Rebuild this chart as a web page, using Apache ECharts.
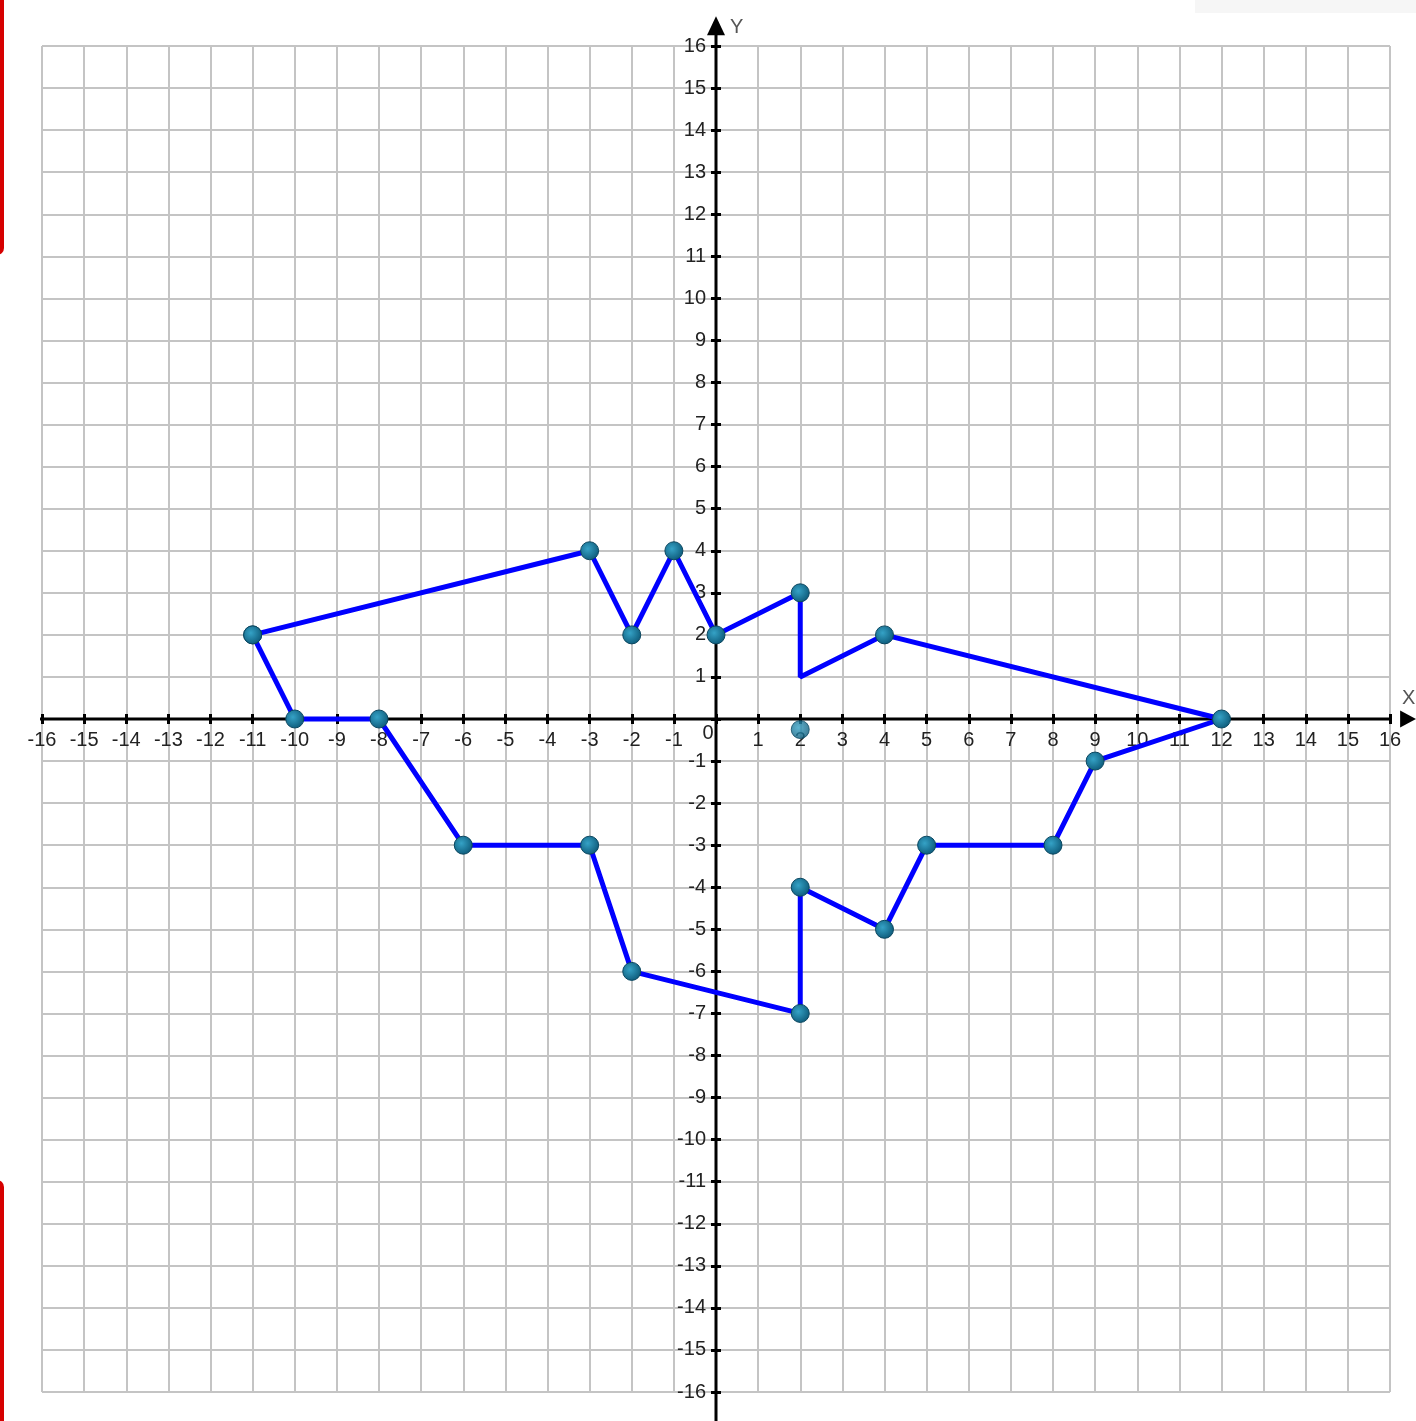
<!DOCTYPE html>
<html>
<head>
<meta charset="utf-8">
<title>Coordinate grid</title>
<script src="https://cdn.jsdelivr.net/npm/echarts@6/dist/echarts.min.js"></script>
<style>
    html, body { margin: 0; padding: 0; background: #fff; }
    #main { width: 1416px; height: 1421px; }
</style>
</head>
<body>
<div id="main"></div>
<script>
// outline of the figure, in drawing order (it closes back on the first point)
const shapeX = [-11, -3, -2, -1, 0, 2, 2, 4, 12, 9, 8, 5, 4, 2, 2, -2, -3, -6, -8, -10, -11]
const shapeY = [2, 4, 2, 4, 2, 3, 1, 2, 0, -1, -3, -3, -5, -4, -7, -6, -3, -3, 0, 0, 2]
// corners that have no dot on them
const bareCorners = [6]
// the loose dot just under the x axis
const strayDot = [[2, -0.25]]
// axis range, and how far the black axes run past the grid
const axisMin = -16
const axisMax = 16
const xAxisReach = [-16.76, 16.43]
const yAxisReach = [-16.8, 16.48]

const labelFont = 'Liberation Sans'
const box = { left: 42, right: 26, top: 46, bottom: 29, width: 1416, height: 1421 }
// the zero lines sit in the middle of the grid, so pull the axes in by half its size
const xShift = -(box.height - box.top - box.bottom) / 2
const yShift = -(box.width - box.left - box.right) / 2

const dotStyle = {
    color: {
        type: 'radial', x: 0.4, y: 0.4, r: 0.65,
        colorStops: [{ offset: 0, color: '#35a2c6' }, { offset: 1, color: '#0c5877' }]
    },
    borderColor: '#0a465f',
    borderWidth: 1
}

const shapeData = shapeX.map(function (x, i) {
    let item = { value: [x, shapeY[i]] }
    if (bareCorners.indexOf(i) >= 0) item.symbol = 'none'
    return item
})

const xAxisData = xAxisReach.map(function (x, i) {
    return i === 1
        ? { value: [x, 0], symbol: 'triangle', symbolSize: [17, 16], symbolRotate: -90 }
        : { value: [x, 0], symbol: 'none' }
})
const yAxisData = yAxisReach.map(function (y, i) {
    return i === 1
        ? { value: [0, y], symbol: 'triangle', symbolSize: [18, 19] }
        : { value: [0, y], symbol: 'none' }
})

const gridLine = { show: true, lineStyle: { color: '#c4c4c4', width: 2 } }
const tickStyle = { color: '#000', width: 3 }

// one axis of each pair carries labels + outward ticks, the other only inward
// ticks, so the ticks cross the black axis lines
function baseAxis (position, shift, inside, extra) {
    return Object.assign({
        type: 'value',
        position: position,
        offset: shift,
        min: axisMin,
        max: axisMax,
        interval: 1,
        axisLine: { show: false, onZero: false },
        splitLine: { show: false },
        axisLabel: { show: false },
        axisTick: { show: true, inside: inside, length: 5, lineStyle: tickStyle }
    }, extra)
}

const myChart = echarts.init(document.getElementById('main'))
myChart.setOption({
    animation: false,
    backgroundColor: '#fff',
    grid: { left: box.left, right: box.right, top: box.top, bottom: box.bottom, containLabel: false, outerBoundsMode: 'none' },
    xAxis: [baseAxis('bottom', xShift, false, {
        splitLine: gridLine,
        axisLabel: {
            show: true,
            interval: 0,
            margin: 11,
            fontFamily: labelFont,
            fontSize: 20,
            color: '#222',
            formatter: function (v) { return v === 0 ? '{o|0}' : String(v) },
            rich: { o: { fontFamily: labelFont, fontSize: 20, color: '#222', lineHeight: 6, padding: [0, 16, 0, 0] } }
        }
    }), baseAxis('bottom', xShift, true, {})],
    yAxis: [baseAxis('left', yShift, false, {
        splitLine: gridLine,
        axisLabel: {
            show: true,
            interval: 0,
            margin: 10,
            fontFamily: labelFont,
            fontSize: 20,
            color: '#222',
            formatter: function (v) { return v === 0 ? '' : String(v) }
        }
    }), baseAxis('left', yShift, true, {})],
    graphic: [
        { type: 'rect', shape: { x: -10, y: -20, width: 14, height: 275, r: 10 }, style: { fill: '#d60000' }, silent: true },
        { type: 'rect', shape: { x: -10, y: 1180, width: 14, height: 260, r: 10 }, style: { fill: '#d60000' }, silent: true },
        { type: 'rect', shape: { x: 1195, y: -5, width: 240, height: 18 }, style: { fill: '#f6f6f6' }, silent: true }
    ],
    series: [{
        name: 'X',
        type: 'line',
        clip: false,
        silent: true,
        z: 3,
        data: xAxisData,
        lineStyle: { color: '#000', width: 3 },
        itemStyle: { color: '#000' },
        endLabel: { show: true, formatter: 'X', fontFamily: labelFont, fontSize: 20, color: '#555', offset: [2, -21] }
    }, {
        name: 'Y',
        type: 'line',
        clip: false,
        silent: true,
        z: 3,
        data: yAxisData,
        lineStyle: { color: '#000', width: 3 },
        itemStyle: { color: '#000' },
        endLabel: { show: true, formatter: 'Y', fontFamily: labelFont, fontSize: 20, color: '#555', offset: [6, 2] }
    }, {
        name: 'figure',
        type: 'line',
        zlevel: 1,
        z: 5,
        data: shapeData,
        symbol: 'circle',
        symbolSize: 18,
        showAllSymbol: true,
        lineStyle: { color: '#0000ff', width: 5 },
        itemStyle: dotStyle
    }, {
        name: 'dot',
        type: 'scatter',
        zlevel: 1,
        z: 5,
        data: strayDot,
        symbolSize: 18,
        itemStyle: dotStyle
    }]
})
</script>
</body>
</html>
